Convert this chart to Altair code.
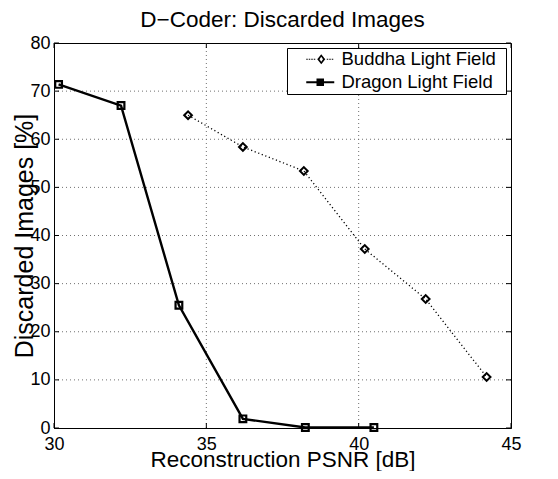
import altair as alt
import pandas as pd

# ---- data ----
series_names = ["Buddha Light Field", "Dragon Light Field"]
buddha_psnr = [34.4, 36.2, 38.2, 40.2, 42.2, 44.2]
buddha_disc = [65.0, 58.4, 53.4, 37.2, 26.8, 10.6]
dragon_psnr = [30.15, 32.2, 34.1, 36.2, 38.25, 40.5]
dragon_disc = [71.4, 67.0, 25.5, 1.9, 0.1, 0.1]

x_ticks = [30, 35, 40, 45]
y_ticks = [0, 10, 20, 30, 40, 50, 60, 70, 80]

rows = []
for x, y in zip(buddha_psnr, buddha_disc):
    rows.append({"series": series_names[0], "psnr": x, "disc": y})
for x, y in zip(dragon_psnr, dragon_disc):
    rows.append({"series": series_names[1], "psnr": x, "disc": y})
df = pd.DataFrame(rows)

FONT = "Liberation Sans"
W, H = 457, 385
XMIN, XMAX, YMIN, YMAX = 30, 45, 0, 80

xs = alt.Scale(domain=[XMIN, XMAX], nice=False, zero=False)
ys = alt.Scale(domain=[YMIN, YMAX], nice=False)

x_axis = alt.Axis(values=x_ticks, title="Reconstruction PSNR [dB]", titleFontSize=22.5,
                  titleY=38, titleBaseline="alphabetic", labelPadding=7, grid=False)
y_axis = alt.Axis(values=y_ticks, title="Discarded Images [%]", titleFontSize=25,
                  titleX=-22, titleBaseline="alphabetic", labelPadding=4, grid=False)

# legend symbol paths (units of sqrt(size)/2), drawn as filled shapes
SH = 1.2
dot_pos = [0.4, 0.9, 1.4, 1.9, 4.5, 5.0, 5.5]
buddha_path = "".join(f"M{v + SH:.2f},-0.1h0.3v0.2h-0.3Z" for v in dot_pos)
buddha_path += (f"M{3.4 + SH},-1.0L{4.2 + SH},0L{3.4 + SH},1.0L{2.6 + SH},0Z"
                f"M{3.4 + SH},-0.5L{3.05 + SH},0L{3.4 + SH},0.5L{3.75 + SH},0Z")
buddha_path += "M41.0,0Z"
dragon_path = (f"M{0.4 + SH},-0.22H{6.0 + SH}V0.22H{0.4 + SH}Z"
               f"M{2.45 + SH},-0.75H{3.95 + SH}V0.75H{2.45 + SH}Z" + "M41.0,0Z")

base = alt.Chart(df)
is_b = alt.datum.series == series_names[0]
is_d = alt.datum.series == series_names[1]

# dotted grid drawn from the tick lists
xgrid = alt.Chart(pd.DataFrame({"v": x_ticks[1:-1]})).mark_rule(
    color="#707070", strokeWidth=1, strokeDash=[1, 3]
).encode(x=alt.X("v:Q", scale=xs, axis=x_axis))
ygrid = alt.Chart(pd.DataFrame({"v": y_ticks[1:-1]})).mark_rule(
    color="#707070", strokeWidth=1, strokeDash=[1, 3]
).encode(y=alt.Y("v:Q", scale=ys, axis=y_axis))

line_b = base.transform_filter(is_b).mark_line(
    color="black", strokeWidth=1.3, strokeDash=[1.2, 2.6]
).encode(x=alt.X("psnr:Q", scale=xs), y=alt.Y("disc:Q", scale=ys))

line_d = base.transform_filter(is_d).mark_line(
    color="black", strokeWidth=2.4
).encode(x=alt.X("psnr:Q", scale=xs), y=alt.Y("disc:Q", scale=ys))

pts_b = base.transform_filter(is_b).mark_point(
    shape="diamond", filled=False, color="black", strokeWidth=2, opacity=1, size=60
).encode(x=alt.X("psnr:Q", scale=xs), y=alt.Y("disc:Q", scale=ys))

pts_d = base.transform_filter(is_d).mark_point(
    shape="square", filled=False, color="black", strokeWidth=2.2, opacity=1, size=45
).encode(x=alt.X("psnr:Q", scale=xs), y=alt.Y("disc:Q", scale=ys))

# legend-only layer (invisible marks; legend symbols forced visible)
legend_layer = base.mark_point(
    filled=True, color="black", opacity=0, strokeWidth=0, size=1
).encode(
    x=alt.X("psnr:Q", scale=xs),
    y=alt.Y("disc:Q", scale=ys),
    shape=alt.Shape("series:N",
                    scale=alt.Scale(domain=series_names, range=[buddha_path, dragon_path]),
                    legend=alt.Legend(title=None, orient="top-right", offset=5,
                                      padding=2, strokeColor="black", fillColor="white",
                                      labelFont=FONT, labelFontSize=18.5, labelColor="black",
                                      symbolSize=100, labelOffset=34, rowPadding=4,
                                      symbolFillColor="black", symbolStrokeWidth=0,
                                      symbolOpacity=1, labelLimit=300)),
)

# inward tick marks (MATLAB-style box)
tick_len_x = 5 * (XMAX - XMIN) / W
tick_len_y = 5 * (YMAX - YMIN) / H
ytick_df = pd.DataFrame({"v": y_ticks})
xtick_df = pd.DataFrame({"v": x_ticks})

yt_left = alt.Chart(ytick_df).mark_rule(color="black", strokeWidth=1).encode(
    y=alt.Y("v:Q", scale=ys), x=alt.datum(XMIN, scale=xs), x2=alt.datum(XMIN + tick_len_x))
yt_right = alt.Chart(ytick_df).mark_rule(color="black", strokeWidth=1).encode(
    y=alt.Y("v:Q", scale=ys), x=alt.datum(XMAX - tick_len_x, scale=xs), x2=alt.datum(XMAX))
xt_bot = alt.Chart(xtick_df).mark_rule(color="black", strokeWidth=1).encode(
    x=alt.X("v:Q", scale=xs), y=alt.datum(YMIN, scale=ys), y2=alt.datum(YMIN + tick_len_y))
xt_top = alt.Chart(xtick_df).mark_rule(color="black", strokeWidth=1).encode(
    x=alt.X("v:Q", scale=xs), y=alt.datum(YMAX - tick_len_y, scale=ys), y2=alt.datum(YMAX))

chart = alt.layer(xgrid, ygrid, line_b, line_d, pts_b, pts_d, yt_left, yt_right, xt_bot, xt_top,
                  legend_layer).properties(
    width=W, height=H,
    title=alt.TitleParams("D\u2212Coder: Discarded Images", font=FONT, fontSize=22.5,
                          fontWeight="normal", color="black", anchor="middle", offset=3),
    autosize=alt.AutoSizeParams(type="none"),
    padding={"left": 46, "top": 35, "right": 39, "bottom": 43},
).configure(
    background="white"
).configure_view(
    stroke="black", strokeWidth=1
).configure_axis(
    labelFont=FONT, labelFontSize=18, labelColor="black",
    titleFont=FONT, titleFontWeight="normal", titleColor="black",
    domainColor="black", domainWidth=1, tickSize=0, grid=False,
    labelFlush=False, labelOverlap=False,
)

chart.save("out.html", embed_options={"renderer": "svg", "actions": False})
